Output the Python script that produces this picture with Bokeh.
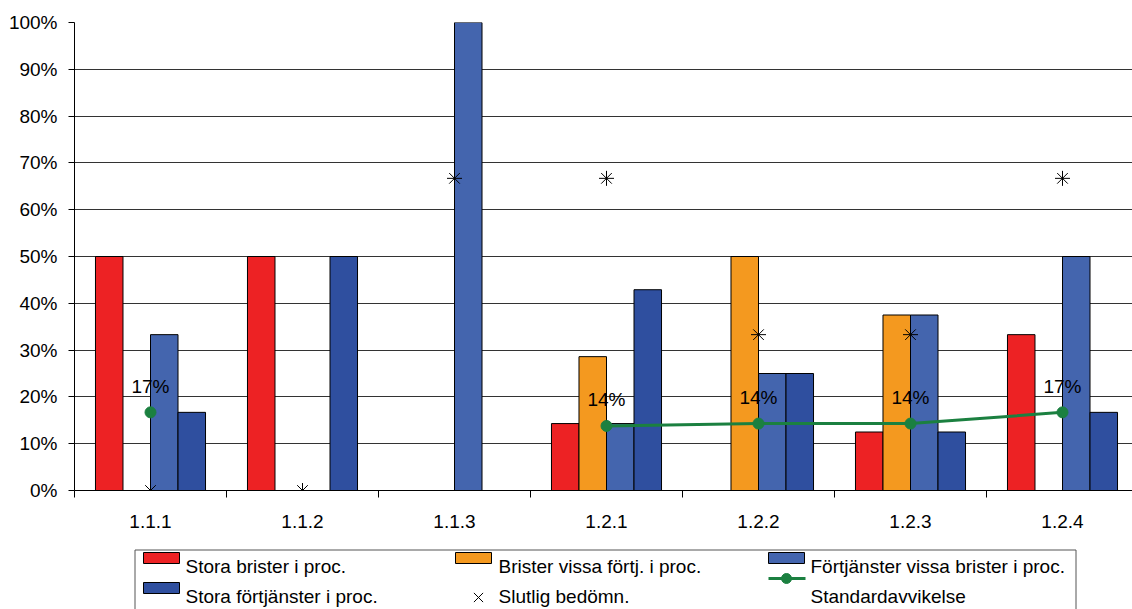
from bokeh.plotting import figure
from bokeh.layouts import column
from bokeh.models import (ColumnDataSource, Range1d, FixedTicker, PrintfTickFormatter)
from bokeh.core.properties import value
from bokeh.embed import file_html
from bokeh.resources import INLINE
import math

# ---- data -------------------------------------------------------------
categories = ["1.1.1", "1.1.2", "1.1.3", "1.2.1", "1.2.2", "1.2.3", "1.2.4"]

stora_brister = [50.0, 50.0, 0.0, 14.3, 0.0, 12.5, 33.3]
brister_vissa = [0.0, 0.0, 0.0, 28.6, 50.0, 37.5, 0.0]
fortjanster_vissa = [33.3, 0.0, 100.0, 14.3, 25.0, 37.5, 50.0]
stora_fortjanster = [16.7, 50.0, 0.0, 42.9, 25.0, 12.5, 16.7]
slutlig = [0.0, 0.0, 66.7, 66.7, 33.3, 33.3, 66.7]
standardavvikelse = [16.7, float("nan"), float("nan"), 13.8, 14.3, 14.3, 16.7]

series_names = ["Stora brister i proc.", "Brister vissa förtj. i proc.",
                "Förtjänster vissa brister i proc.", "Stora förtjänster i proc."]
series_colors = ["#ED2224", "#F4991F", "#4465AE", "#2F4F9F"]
line_color = "#1B8040"

FONT = "Liberation Sans"
FS = "19px"

# ---- main chart -------------------------------------------------------
n = len(categories)
centers = [i + 0.5 for i in range(n)]
bar_w = 0.181
offsets = [-1.5 * bar_w, -0.5 * bar_w, 0.5 * bar_w, 1.5 * bar_w]

p = figure(frame_width=1058, frame_height=468, output_backend="svg",
           toolbar_location=None, x_range=Range1d(0, 1058 / 152),
           y_range=Range1d(0, 100), min_border_left=74, min_border_top=22,
           min_border_bottom=40, min_border_right=0)
p.outline_line_color = None
p.background_fill_color = "white"
p.border_fill_color = "white"

# horizontal grid
p.xgrid.grid_line_color = None
p.ygrid.ticker = FixedTicker(ticks=list(range(0, 101, 10)))
p.ygrid.grid_line_color = "#333333"
p.ygrid.grid_line_width = 1

# bars (zero-height bars are skipped)
for k, vals in enumerate([stora_brister, brister_vissa, fortjanster_vissa, stora_fortjanster]):
    xs = [c + offsets[k] for c, v in zip(centers, vals) if v > 0]
    tops = [v for v in vals if v > 0]
    src = ColumnDataSource(dict(x=xs, top=tops))
    p.vbar(x="x", top="top", bottom=0, width=bar_w, source=src,
           fill_color=series_colors[k], line_color="black", line_width=1)

# final assessment markers
p.scatter(centers, slutlig, marker="asterisk", size=15, line_color="black",
          line_width=1)

# standard deviation line with labels
p.line(centers, standardavvikelse, line_color=line_color, line_width=3)
sd_x = [c for c, v in zip(centers, standardavvikelse) if not math.isnan(v)]
sd_y = [v for v in standardavvikelse if not math.isnan(v)]
p.scatter(sd_x, sd_y, marker="circle", size=11, fill_color=line_color,
          line_color=line_color)
p.text(sd_x, sd_y, text=[f"{round(v)}%" for v in sd_y], text_align="center",
       text_baseline="middle", y_offset=-26, text_font=value(FONT),
       text_font_size=FS, text_color="black")

# axes
p.yaxis.ticker = FixedTicker(ticks=list(range(0, 101, 10)))
p.yaxis.formatter = PrintfTickFormatter(format="%d%%")
p.yaxis.major_tick_in = 0
p.yaxis.major_tick_out = 6
p.yaxis.minor_tick_line_color = None
p.yaxis.major_label_standoff = 11

p.xaxis.ticker = FixedTicker(ticks=centers, minor_ticks=list(range(n + 1)))
p.xaxis.major_label_overrides = {c: lab for c, lab in zip(centers, categories)}
p.xaxis.major_tick_in = 0
p.xaxis.major_tick_out = 0
p.xaxis.minor_tick_in = 0
p.xaxis.minor_tick_out = 7
p.xaxis.major_label_standoff = 17

for ax in (p.xaxis, p.yaxis):
    ax.axis_line_color = "black"
    ax.axis_line_width = 1
    ax.major_tick_line_color = "black"
    ax.major_label_text_font = FONT
    ax.major_label_text_font_size = FS
    ax.major_label_text_color = "black"
p.xaxis.minor_tick_line_color = "black"

# ---- legend panel (coordinates are page pixels) -------------------------
leg = figure(frame_width=1058, frame_height=79, output_backend="svg",
             toolbar_location=None, x_range=Range1d(74, 1132),
             y_range=Range1d(79, 0), min_border_left=74, min_border_right=0,
             min_border_top=0, min_border_bottom=0)
leg.outline_line_color = None
leg.axis.visible = False
leg.grid.visible = False

leg.quad(left=[134.5], right=[1075.5], top=[19.5], bottom=[95],
         fill_color="white", line_color="#555555", line_width=1)

sw_left = [143, 455, 768, 143]
sw_top = [22, 22, 22, 52]
for k in range(4):
    leg.quad(left=[sw_left[k]], right=[sw_left[k] + 36], top=[sw_top[k]],
             bottom=[sw_top[k] + 11], fill_color=series_colors[k],
             line_color="black", line_width=1)

leg.scatter([478], [67], marker="x", size=13, line_color="black", line_width=1)
leg.line([768, 805], [48, 48], line_color=line_color, line_width=3)
leg.scatter([786], [48], marker="circle", size=10, fill_color=line_color,
            line_color=line_color)

leg_x = [185, 498, 810, 185, 498, 810]
leg_y = [36, 36, 36, 65.5, 65.5, 65.5]
leg_text = [series_names[0], series_names[1], series_names[2], series_names[3],
            "Slutlig bedömn.", "Standardavvikelse"]
leg.text(leg_x, leg_y, text=leg_text, text_align="left", text_baseline="middle",
         text_font=value(FONT), text_font_size=FS, text_color="black")

layout = column(p, leg, spacing=0)
open("out.html", "w").write(file_html(layout, INLINE))
